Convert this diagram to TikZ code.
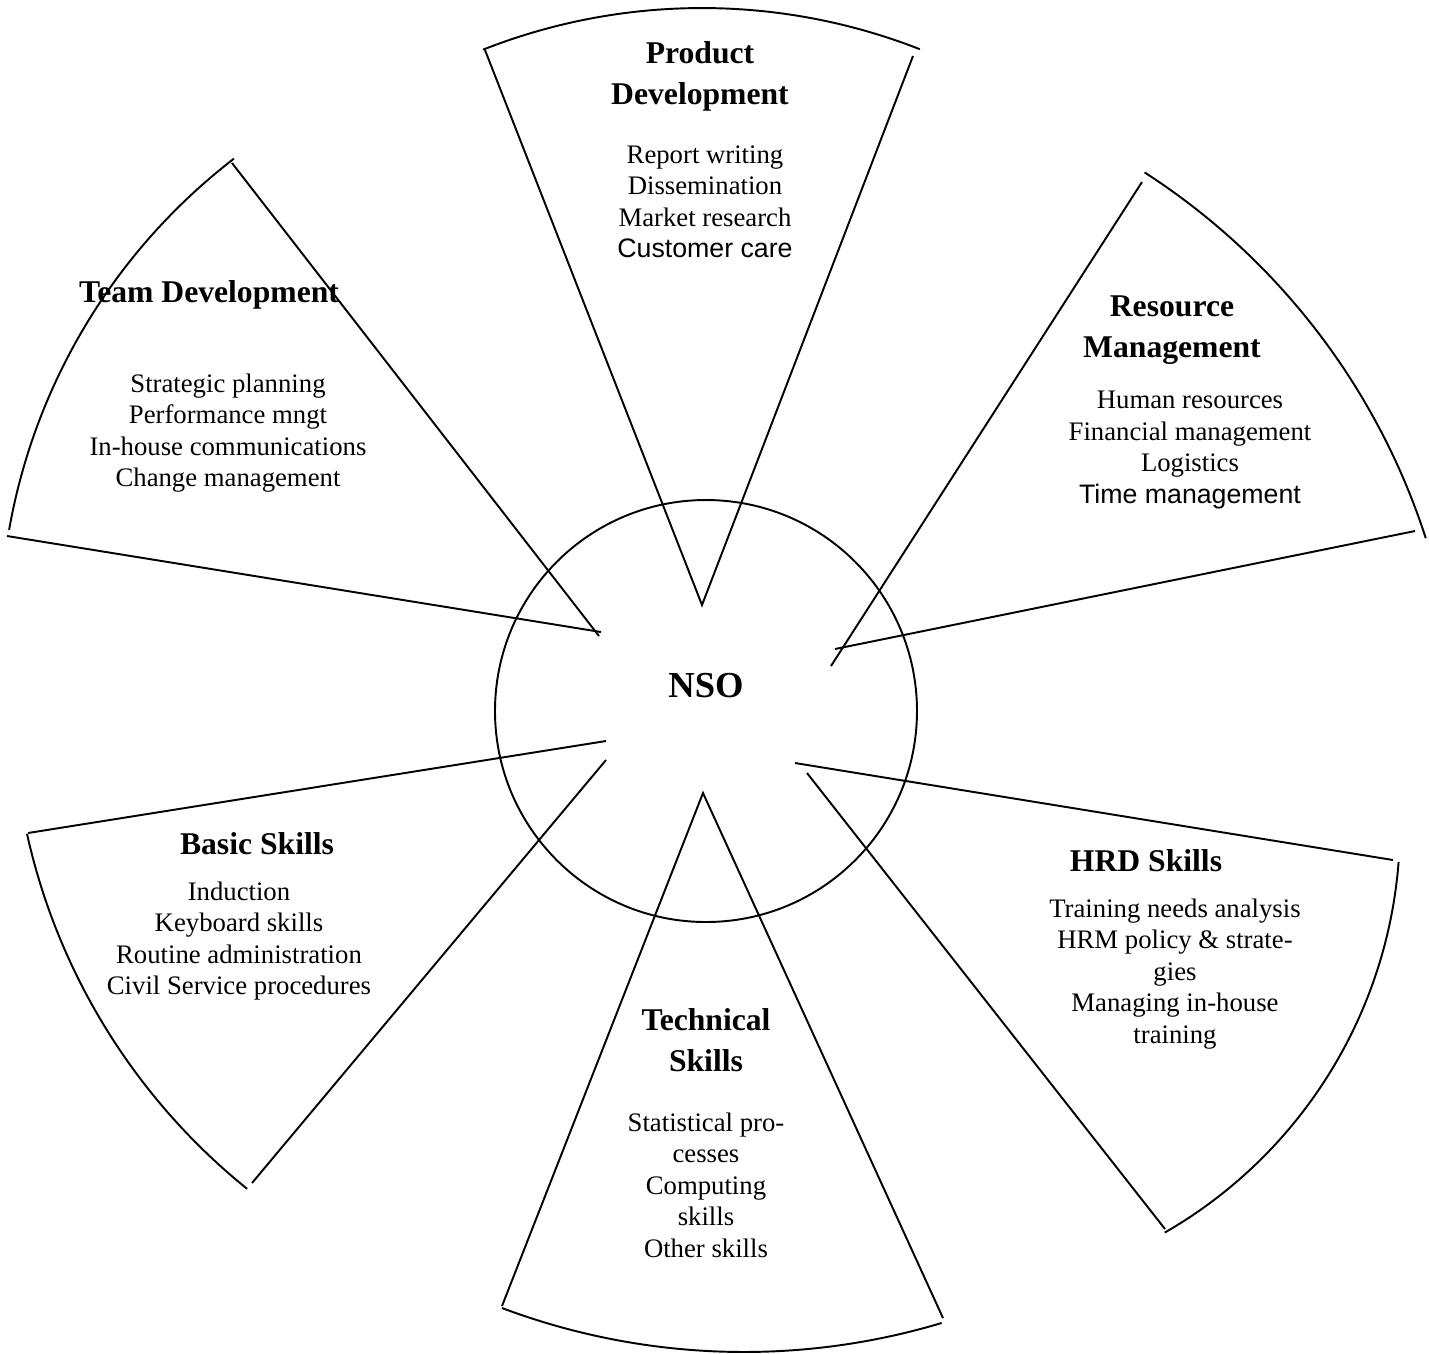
\documentclass[tikz,border=0pt]{standalone}
\usepackage{fontspec}
\setmainfont{Liberation Serif}
\newfontfamily\arialfont{Liberation Sans}

\tikzset{
  rim/.style={line width=0.55pt, black},
  headtxt/.style={align=center, inner sep=0pt, font=\fontsize{9}{11.7}\selectfont\bfseries},
  itemtxt/.style={align=center, inner sep=0pt, font=\fontsize{7.6}{8.95}\selectfont},
}

\begin{document}
\begin{tikzpicture}[x=0.01cm, y=-0.01cm]
    \useasboundingbox (0,0) rectangle (1429,1353);

    % Hub
    \coordinate (hub) at (706,711);
    \draw[rim] (hub) circle[radius=211];
    \node (nso) [inner sep=0pt, font=\fontsize{10.4}{12}\selectfont\bfseries] at (706,686) {NSO};

    % Product Development
    \coordinate (prodA) at (702,605);
    \coordinate (prodL) at (485,50);
    \coordinate (prodR) at (913,56);
    \draw[rim] (prodL) -- (prodA) -- (prodR);
    \draw[rim] ([shift={(248.5:597)}]prodA) arc[start angle=248.5, end angle=291.4, radius=597];

    % Resource Management
    \coordinate (resA1) at (831,666);
    \coordinate (resA2) at (835,649);
    \coordinate (resU) at (1142,182);
    \coordinate (resL) at (1415,531);
    \coordinate (resC) at (773,749);
    \draw[rim] (resU) -- (resA1);
    \draw[rim] (resA2) -- (resL);
    \draw[rim] ([shift={(302.8:686)}]resC) arc[start angle=302.8, end angle=342.1, radius=686];

    % HRD Skills
    \coordinate (hrdA1) at (795,763);
    \coordinate (hrdA2) at (807,773);
    \coordinate (hrdU) at (1393,860);
    \coordinate (hrdL) at (1165,1229);
    \coordinate (hrdC) at (931,826);
    \draw[rim] (hrdA1) -- (hrdU);
    \draw[rim] (hrdA2) -- (hrdL);
    \draw[rim] ([shift={(4.4:469)}]hrdC) arc[start angle=4.4, end angle=60.1, radius=469];

    % Technical Skills
    \coordinate (techA) at (703,793);
    \coordinate (techL) at (502,1306);
    \coordinate (techR) at (943,1318);
    \coordinate (techC) at (744,664);
    \draw[rim] (techL) -- (techA) -- (techR);
    \draw[rim] ([shift={(110.6:688)}]techC) arc[start angle=110.6, end angle=73.3, radius=688];

    % Basic Skills
    \coordinate (basA1) at (606,741);
    \coordinate (basA2) at (606,760);
    \coordinate (basU) at (28,833);
    \coordinate (basL) at (252,1183);
    \coordinate (basC) at (644,697);
    \draw[rim] (basU) -- (basA1);
    \draw[rim] (basL) -- (basA2);
    \draw[rim] ([shift={(128.9:632)}]basC) arc[start angle=128.9, end angle=167.5, radius=632];

    % Team Development
    \coordinate (teamA1) at (601,632);
    \coordinate (teamA2) at (599,636);
    \coordinate (teamL) at (7,536);
    \coordinate (teamU) at (232,163);
    \coordinate (teamC) at (600,634);
    \draw[rim] (teamL) -- (teamA1);
    \draw[rim] (teamU) -- (teamA2);
    \draw[rim] ([shift={(190:600)}]teamC) arc[start angle=190, end angle=232.4, radius=600];

    % Labels
    \node (prodhead) [headtxt] at (700,76) {Product\\Development};
    \node (prodlist) [itemtxt] at (705,202) {Report writing\\Dissemination\\Market research\\{\arialfont Customer care}};

    \node (reshead) [headtxt] at (1172,330) {Resource\\Management};
    \node (reslist) [itemtxt] at (1190,450) {Human resources\\Financial management\\Logistics\\{\arialfont Time management}};

    \node (hrdhead) [headtxt] at (1146,861) {HRD Skills};
    \node (hrdlist) [itemtxt] at (1175,974) {Training needs analysis\\HRM policy \& strate-\\gies\\Managing in-house\\training};

    \node (techhead) [headtxt] at (706,1040) {Technical\\Skills};
    \node (techlist) [itemtxt] at (706,1185) {Statistical pro-\\cesses\\Computing\\skills\\Other skills};

    \node (bashead) [headtxt] at (257,844) {Basic Skills};
    \node (baslist) [itemtxt] at (239,941) {Induction\\Keyboard skills\\Routine administration\\Civil Service procedures};

    \node (teamhead) [headtxt] at (209,295) {Team Development};
    \node (teamlist) [itemtxt] at (228,433) {Strategic planning\\Performance mngt\\In-house communications\\Change management};
\end{tikzpicture}
\end{document}
